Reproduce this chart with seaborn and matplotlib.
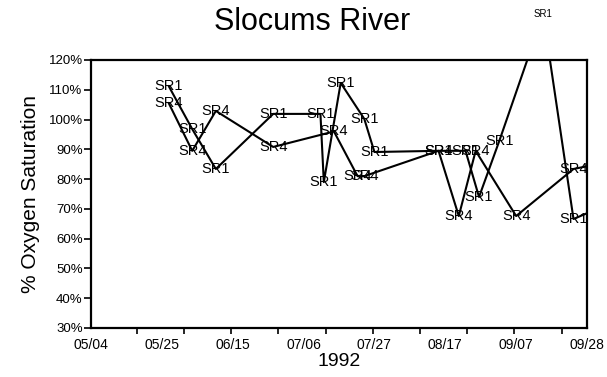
import matplotlib
matplotlib.use("Agg")
import matplotlib.pyplot as plt
import matplotlib.dates as mdates
from matplotlib.ticker import FuncFormatter
import seaborn as sns
import pandas as pd
import numpy as np

# ---- data ----
sr1_dates = ["1992-05-27", "1992-06-03", "1992-06-10", "1992-06-27", "1992-07-11",
             "1992-07-12", "1992-07-17", "1992-07-24", "1992-07-27", "1992-08-15",
             "1992-08-23", "1992-08-27", "1992-09-02", "1992-09-15", "1992-09-24",
             "1992-10-01"]
sr1_values = [111.3, 96.8, 83.4, 101.9, 101.9, 79.0, 112.3, 100.2, 89.1, 89.5,
              89.5, 74.0, 92.8, 135.4, 66.6, 70.0]

sr4_dates = ["1992-05-27", "1992-06-03", "1992-06-10", "1992-06-27", "1992-07-15",
             "1992-07-22", "1992-07-24", "1992-08-15", "1992-08-21", "1992-08-26",
             "1992-09-07", "1992-09-24", "1992-10-01"]
sr4_values = [105.6, 89.5, 102.9, 90.8, 96.0, 81.0, 81.0, 89.5, 67.6, 89.5,
              67.6, 83.4, 85.0]

series_names = ["SR1", "SR4"]
xtick_labels = ["05/04", "05/25", "06/15", "07/06", "07/27", "08/17", "09/07", "09/28"]
yticks = [30, 40, 50, 60, 70, 80, 90, 100, 110, 120]

title = "Slocums River"
xlabel = "1992"
ylabel = "% Oxygen Saturation"

df = pd.concat([
    pd.DataFrame({"date": pd.to_datetime(sr1_dates), "value": sr1_values, "site": "SR1"}),
    pd.DataFrame({"date": pd.to_datetime(sr4_dates), "value": sr4_values, "site": "SR4"}),
], ignore_index=True)

# ---- style ----
sns.set_theme(style="ticks")
plt.rcParams["font.family"] = ["Liberation Sans", "DejaVu Sans"]
plt.rcParams["text.color"] = "black"
plt.rcParams["axes.labelcolor"] = "black"
plt.rcParams["xtick.color"] = "black"
plt.rcParams["ytick.color"] = "black"

fig = plt.figure(figsize=(6.07, 3.77), dpi=100)
ax = fig.add_axes([91/607, 1 - 328/377, (587-91)/607, (328-60)/377])

sns.lineplot(data=df, x="date", y="value", hue="site", units="site", estimator=None,
             palette={"SR1": "black", "SR4": "black"}, legend=False, ax=ax,
             linewidth=1.5, sort=False)

xmin = pd.Timestamp("1992-05-04")
xmax = pd.Timestamp("1992-09-28")
ax.set_xlim(xmin, xmax)
ax.set_ylim(30, 120)

# point labels
for name in series_names:
    sub = df[df["site"] == name]
    for d, v in zip(sub["date"], sub["value"]):
        if d > xmax:
            continue
        fs = 7 if v > 120 else 10.5
        ax.text(mdates.date2num(d), v, name, ha="center", va="center",
                fontsize=fs, color="black", clip_on=False, zorder=5)

# ticks
major = [xmin + pd.Timedelta(days=21 * i) for i in range(len(xtick_labels))]
ax.set_xticks(major)
ax.set_xticklabels(xtick_labels, fontsize=10)
minor = [xmin + pd.Timedelta(days=13.5 + 14 * i) for i in range(10)]
ax.set_xticks(minor, minor=True)
ax.tick_params(axis="x", which="major", length=0, pad=7, labelcolor="black")
ax.tick_params(axis="x", which="minor", length=4, width=1.2, color="black", direction="out")
ax.set_yticks(yticks)
ax.yaxis.set_major_formatter(FuncFormatter(lambda v, p: f"{v:.0f}%"))
ax.tick_params(axis="y", length=5, width=1.2, color="black", labelsize=9.5, pad=1,
               labelcolor="black")

for s in ax.spines.values():
    s.set_linewidth(1.6)
    s.set_color("black")
    s.set_visible(True)

ax.set_xlabel(xlabel, fontsize=14, labelpad=1, color="black")
ax.set_ylabel(ylabel, fontsize=15, labelpad=6, color="black")
fig.text(312/607, 1 - 22/377, title, ha="center", va="center", fontsize=22, color="black")

fig.savefig("out.png", dpi=100)
